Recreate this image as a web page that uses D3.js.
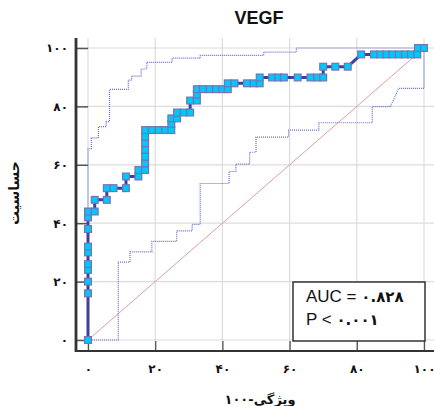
<!DOCTYPE html>
<html lang="fa">

<head>
    <meta charset="UTF-8">
    <title>VEGF - ROC</title>
    <script src="https://d3js.org/d3.v7.min.js"></script>
    <style>
        body {
            margin: 0;
            background: #fff;
        }

        .fa {
            font-family: "DejaVu Sans", sans-serif;
            font-weight: bold;
        }
    </style>
</head>

<body>
    <svg id="chart" width="434" height="406"></svg>
    <script>

        // ROC curve points (1-specificity, sensitivity)
        let rocFpr = [0, 0, 0, 0, 0, 0, 0, 0, 0, 0, 2, 2, 5.6, 5.6, 7.6, 11.3, 11.3, 15, 15, 17, 17, 17, 17, 17, 17, 17,
            19, 21, 23, 24.8, 24.8, 24.8, 26.5, 26.5, 28.5, 30.4, 30.4, 32.4, 32.4, 32.4, 34.2, 36.2, 38.1, 40, 41.6,
            41.6, 43.6, 47.3, 49.3, 51.1, 51.1, 54.8, 56.6, 58.3, 62.4, 66.2, 68.2, 70, 70, 73.6, 77.3,
            81.3, 85.1, 87, 88.8, 90.6, 92.5, 94.3, 96.1, 98, 98.2, 100]
        let rocTpr = [0, 16, 20, 24, 26, 30, 32, 38, 42, 44, 44, 48, 48, 52, 52, 52, 56, 56, 58.2, 58.2, 60.5, 62.8, 65.1, 67.4, 69.6, 71.9,
            71.9, 71.9, 71.9, 71.9, 74, 75.9, 75.9, 77.9, 77.9, 77.9, 82, 82, 84, 85.9, 85.9, 85.9, 85.9, 85.9, 85.9,
            87.9, 87.9, 87.9, 87.9, 87.9, 89.9, 89.9, 89.9, 89.9, 89.9, 89.9, 89.9, 89.9, 93.6, 93.6, 93.6,
            97.8, 97.8, 97.8, 97.8, 97.8, 97.8, 97.8, 97.8, 97.8, 100, 100]

        // confidence band outlines
        let upperFpr = [0, 0, 1, 1, 3.1, 3.1, 5.4, 5.4, 6.4, 6.4, 12, 12, 13, 13, 15.8, 15.8, 17.5, 17.5, 25, 25, 33.4, 33.4, 52.3, 52.3, 62, 62, 100]
        let upperTpr = [44, 65.5, 65.5, 69.2, 69.2, 73.1, 73.1, 74.8, 74.8, 85.8, 85.8, 89, 89, 90.4, 90.4, 92.8, 92.8, 95.1, 95.1, 96.5, 96.5, 97.5, 97.5, 98.6, 98.6, 100, 100]
        let lowerFpr = [0, 9, 9, 12.5, 12.5, 19, 19, 26.4, 26.4, 31, 31, 33.4, 33.4, 42, 42, 44, 44, 48.1, 48.1, 50, 50, 59.7, 59.7, 68.7, 68.7, 84.6, 84.6, 90, 92.5, 100, 100]
        let lowerTpr = [0, 0, 26.7, 26.7, 30.2, 30.2, 33.8, 33.8, 37.4, 37.4, 39.6, 39.6, 53.6, 53.6, 57.7, 57.7, 60.2, 60.2, 64.3, 64.3, 69.5, 69.5, 71.9, 71.9, 74.4, 74.4, 79.9, 79.9, 86.2, 86.2, 100]

        let majorTicks = [0, 20, 40, 60, 80, 100]
        let minorTicks = d3.range(0, 101, 5)
        let title = "VEGF"
        let yTitle = "حساسیت"
        let xTitle = "ویژگی-۱۰۰"
        let statLabels = ["AUC = ", "P < "]
        let statValues = ["۰.۸۲۸", "۰.۰۰۱"]

        let faDigits = "۰۱۲۳۴۵۶۷۸۹"
        let toFa = d => String(d).replace(/\d/g, c => faDigits[+c])

        let svg = d3.select("#chart")
        let x = d3.scaleLinear().domain([0, 100]).range([88, 424])
        let y = d3.scaleLinear().domain([0, 100]).range([340, 48])
        let axisX = 76, axisY = 351, plotTop = 38, plotRight = 434

        // grid
        let grid = svg.append("g")
        grid.selectAll(".gx").data(majorTicks).enter().append("line")
            .attr("x1", d => x(d)).attr("x2", d => x(d))
            .attr("y1", plotTop).attr("y2", axisY)
            .attr("stroke", "#dcdcdc").attr("stroke-width", 1.2)
        grid.selectAll(".gy").data(majorTicks).enter().append("line")
            .attr("y1", d => y(d)).attr("y2", d => y(d))
            .attr("x1", axisX).attr("x2", plotRight)
            .attr("stroke", "#dcdcdc").attr("stroke-width", 1.2)

        // left axis: ticks point inwards, labels outside
        let gy = svg.append("g").attr("transform", `translate(${axisX},0)`)
        gy.call(d3.axisLeft(y).tickValues(minorTicks).tickSize(-6).tickFormat(""))
        gy.call(d3.axisLeft(y).tickValues(majorTicks).tickSize(-12).tickPadding(8).tickFormat(toFa))
        gy.selectAll(".domain").remove()
        gy.selectAll("line").attr("stroke", "#555").attr("stroke-width", 1.5)
        gy.selectAll("text").attr("class", "fa").attr("font-size", 12).attr("fill", "#111")

        let gx = svg.append("g").attr("transform", `translate(0,${axisY})`)
        gx.call(d3.axisBottom(x).tickValues(minorTicks).tickSize(-5).tickFormat(""))
        gx.call(d3.axisBottom(x).tickValues(majorTicks).tickSize(-10).tickPadding(13).tickFormat(toFa))
        gx.selectAll(".domain").remove()
        gx.selectAll("line").attr("stroke", "#555").attr("stroke-width", 1.3)
        gx.selectAll("text").attr("class", "fa").attr("font-size", 12).attr("fill", "#111")

        svg.append("line").attr("x1", axisX).attr("x2", axisX).attr("y1", plotTop).attr("y2", axisY + 1)
            .attr("stroke", "#333").attr("stroke-width", 2.8)
        svg.append("line").attr("x1", axisX).attr("x2", plotRight).attr("y1", axisY).attr("y2", axisY)
            .attr("stroke", "#333").attr("stroke-width", 2)

        // reference diagonal
        svg.append("line")
            .attr("x1", x(0)).attr("y1", y(0)).attr("x2", x(100)).attr("y2", y(100))
            .attr("stroke", "#d9a0a0").attr("stroke-width", 1)

        // confidence bands
        let line = d3.line().x(d => x(d[0])).y(d => y(d[1]))
        let bands = [d3.zip(upperFpr, upperTpr), d3.zip(lowerFpr, lowerTpr)]
        svg.selectAll(".band").data(bands).enter().append("path")
            .attr("d", line)
            .attr("fill", "none")
            .attr("stroke", "#6a6ad0")
            .attr("stroke-width", 1.2)
            .attr("stroke-dasharray", "1,1")

        // ROC curve
        let roc = d3.zip(rocFpr, rocTpr)
        svg.append("path").datum(roc)
            .attr("d", line)
            .attr("fill", "none")
            .attr("stroke", "#40409c")
            .attr("stroke-width", 3)
        let s = 6.8
        svg.selectAll(".pt").data(roc).enter().append("rect")
            .attr("x", d => x(d[0]) - s / 2)
            .attr("y", d => y(d[1]) - s / 2)
            .attr("width", s).attr("height", s)
            .attr("fill", "#00c8fa")
            .attr("stroke", "#7474b4")
            .attr("stroke-width", 1.2)

        // stats box
        svg.append("rect").attr("x", 293).attr("y", 282).attr("width", 132).attr("height", 59)
            .attr("fill", "#fff").attr("stroke", "#333").attr("stroke-width", 1.5)
        let stat = svg.selectAll(".stat").data(statLabels).enter().append("text")
            .attr("x", 306).attr("y", (d, i) => 302 + i * 23)
            .attr("font-family", "Liberation Sans, Arial, sans-serif")
            .attr("font-size", 17)
            .attr("fill", "#111")
        stat.append("tspan").text(d => d)
        stat.append("tspan").attr("class", "fa").attr("font-size", 15)
            .text((d, i) => statValues[i])

        // titles
        svg.append("text").attr("x", 259).attr("y", 24).attr("text-anchor", "middle")
            .attr("font-family", "Liberation Sans, Arial, sans-serif").attr("font-size", 18)
            .attr("font-weight", "bold").attr("fill", "#111").text(title)
        svg.append("text").attr("class", "fa").attr("font-size", 14).attr("fill", "#111")
            .attr("text-anchor", "middle")
            .attr("transform", "translate(19,193) rotate(-90)")
            .text(yTitle)
        svg.append("text").attr("class", "fa").attr("font-size", 13).attr("fill", "#111")
            .attr("text-anchor", "middle").attr("x", 260).attr("y", 404)
            .text(xTitle)

    </script>
</body>

</html>
